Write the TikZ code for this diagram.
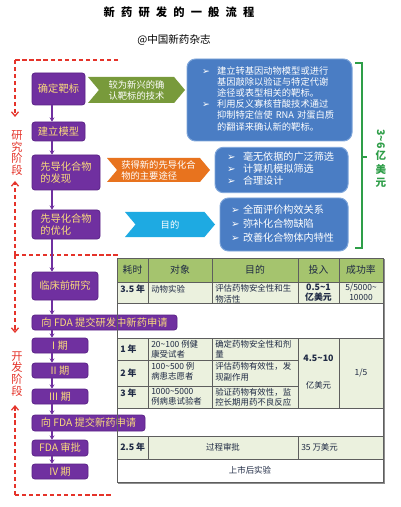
\documentclass[tikz,border=0pt]{standalone}
\usepackage{fontspec}
\setmainfont{Noto Sans CJK SC}
\newfontfamily\symfont{DejaVu Sans}
\usetikzlibrary{arrows.meta,shapes.symbols,calc}
\definecolor{stagefill}{HTML}{7030A0}
\definecolor{stageedge}{HTML}{5A2386}
\definecolor{stagetext}{HTML}{FADB7C}
\definecolor{notefill}{HTML}{4A7DC4}
\definecolor{noteedge}{HTML}{7FA6DA}
\definecolor{taggreen}{HTML}{789A3B}
\definecolor{tagorange}{HTML}{E8731E}
\definecolor{tagcyan}{HTML}{1EAAE2}
\definecolor{phasered}{HTML}{E5332A}
\definecolor{costgreen}{HTML}{2E9E48}
\definecolor{headfill}{HTML}{A5C46E}
\definecolor{rowfill}{HTML}{EBF1DE}
\definecolor{gridline}{HTML}{5E5E5E}
\definecolor{celltext}{HTML}{1F2A44}
\newcommand{\bul}{{\symfont\char"27A2}}
\tikzset{stage/.style={draw=stageedge, fill=stagefill, rounded corners=2pt, text=stagetext, inner sep=1pt,
    font=\fontsize{7.3}{8.8}\selectfont, line width=0.5pt},
  tag/.style={signal, signal from=west, signal to=east, signal pointer angle=100, text=white, inner sep=1pt,
    align=left, font=\fontsize{6.6}{7.8}\selectfont},
  note/.style={draw=noteedge, fill=notefill, rounded corners=6pt, text=white, line width=0.7pt, align=left},
  flow/.style={-{Stealth[length=3pt,width=3.5pt]}, draw=stagefill, line width=1.2pt},
  phase/.style={draw=phasered, line width=0.9pt, dash pattern=on 3pt off 2pt},
  phasetip/.style={phase, -{Straight Barb[length=3pt,width=5pt]}},
  phasetext/.style={text=phasered, align=center, font=\fontsize{8}{8.4}\selectfont},
  cell/.style={text=celltext, inner sep=0pt, align=left, font=\fontsize{6}{7.2}\selectfont},
  grid/.style={draw=gridline, line width=0.6pt}}

\begin{document}
\begin{tikzpicture}[x=0.25mm, y=-0.25mm]
  \useasboundingbox[fill=white] (0,0) rectangle (400,507);
  % title
  \node[font=\bfseries\fontsize{8}{9}\selectfont\addfontfeatures{LetterSpace=55}] (title) at (179,12) {新药研发的一般流程};
  \node[font=\fontsize{7.5}{9}\selectfont] (journal) at (174,40) {@中国新药杂志};

  % research / development phases
  \coordinate (rtop) at (15,60);
  \coordinate (rend) at (118,60);
  \coordinate (rdown) at (15,117);
  \coordinate (mid) at (15,255);
  \coordinate (midend) at (118,255);
  \coordinate (rup) at (15,181);
  \coordinate (ddown) at (15,333);
  \coordinate (dbot) at (15,495);
  \coordinate (dend) at (113,495);
  \coordinate (dup) at (15,405);
  \draw[phase] (rend) -- (rtop);
  \draw[phasetip] (rtop) -- (rdown);
  \draw[phasetip] (mid) -- (rup);
  \draw[phase] (mid) -- (midend);
  \draw[phasetip] (mid) -- (ddown);
  \draw[phasetip] (dbot) -- (dup);
  \draw[phase] (dbot) -- (dend);
  \node[phasetext] (research) at (17,153) {研\\究\\阶\\段};
  \node[phasetext] (develop) at (17,374) {开\\发\\阶\\段};

  % stages
  \node[stage, minimum width=13.25mm, minimum height=8mm] (b1) at (58.5,89) {确定靶标};
  \node[stage, minimum width=13.25mm, minimum height=4.75mm] (b2) at (58.5,131.5) {建立模型};
  \node[stage, minimum width=17mm, minimum height=8.75mm, align=left] (b3) at (66,172.5) {先导化合物\\的发现};
  \node[stage, minimum width=17mm, minimum height=7.25mm, align=left] (b4) at (66,224.5) {先导化合物\\的优化};
  \node[stage, minimum width=16.5mm, minimum height=7mm] (b5) at (65,286) {临床前研究};
  \node[stage, minimum width=36.25mm, minimum height=3.75mm] (b6) at (104.5,322.5) {向 FDA 提交研发中新药申请};
  \node[stage, minimum width=14mm, minimum height=3.75mm] (b7) at (60,345.5) {I 期};
  \node[stage, minimum width=14mm, minimum height=3.75mm] (b8) at (60,370.5) {II 期};
  \node[stage, minimum width=14mm, minimum height=3.75mm] (b9) at (60,396.5) {III 期};
  \node[stage, minimum width=28.25mm, minimum height=4mm] (b10) at (88.5,423) {向 FDA 提交新药申请};
  \node[stage, minimum width=14mm, minimum height=4mm] (b11) at (60,448) {FDA 审批};
  \node[stage, minimum width=14mm, minimum height=3.75mm] (b12) at (60,471.5) {IV 期};
  \coordinate (spine) at (52,0);
  \foreach \a/\b in {b1/b2,b2/b3,b3/b4,b4/b5,b5/b6,b6/b7,b7/b8,b8/b9,b9/b10,b10/b11,b11/b12}
    \draw[flow] (\a.south -| spine) -- (\b.north -| spine);

  % tags
  \node[tag, fill=taggreen, minimum width=24.25mm, minimum height=6.5mm] (g1) at (136.5,90) {较为新兴的确\\认靶标的技术};
  \node[tag, fill=tagorange, minimum width=25.75mm, minimum height=6mm] (o1) at (158.5,170) {获得新的先导化合\\物的主要途径};
  \node[tag, fill=tagcyan, minimum width=22.5mm, minimum height=6.25mm] (c1) at (170,224.5) {目的};

  % notes
  \node[note, inner xsep=3.75mm, text width=33.75mm, minimum height=20.5mm, font=\fontsize{6.6}{7.7}\selectfont] (u1) at (269.5,100)
    {\begin{tabular}{@{}p{3.75mm}@{}l@{}}
      \bul & 建立转基因动物模型或进行\\ & 基因敲除以验证与特定代谢\\ & 途径或表型相关的靶标。\\
      \bul & 利用反义寡核苷酸技术通过\\ & 抑制特定信使 RNA 对蛋白质\\ & 的翻译来确认新的靶标。
    \end{tabular}};
  \node[note, inner xsep=3mm, text width=27.25mm, minimum height=11mm, font=\fontsize{7.2}{8.2}\selectfont] (u2) at (281.5,170)
    {\begin{tabular}{@{}p{4mm}@{}l@{}}
      \bul & 毫无依据的广泛筛选\\ \bul & 计算机模拟筛选\\ \bul & 合理设计
    \end{tabular}};
  \node[note, inner xsep=2.75mm, text width=26.5mm, minimum height=13.25mm, font=\fontsize{7.2}{10}\selectfont] (u3) at (284,224.5)
    {\begin{tabular}{@{}p{3mm}@{}l@{}}
      \bul & 全面评价构效关系\\ \bul & 弥补化合物缺陷\\ \bul & 改善化合物体内特性
    \end{tabular}};

  % cost bracket
  \coordinate (brtop) at (355,63);
  \coordinate (brbot) at (355,248);
  \coordinate (brmid) at (362,157);
  \draw[costgreen, line width=1.1pt] (brtop) -- (brtop -| brmid) -- (brbot -| brmid) -- (brbot);
  \draw[costgreen, line width=1.1pt] (brmid) -- ++(5,0);
  \node[costgreen, rotate=-90, font=\bfseries\fontsize{7.5}{8}\selectfont] (range) at (381,139) {3\textasciitilde6};
  \node[costgreen, align=center, font=\bfseries\fontsize{7.5}{9.6}\selectfont] (unit) at (381,169) {亿\\美\\元};

  % table
  \fill[headfill] (117,258) rectangle (383,282);
  \fill[rowfill] (117,282) rectangle (383,303);
  \fill[rowfill] (117,338) rectangle (383,408);
  \fill[rowfill] (117,436) rectangle (383,459);
  \draw[grid] (117,282) -- (383,282);
  \draw[grid] (117,303) -- (383,303);
  \draw[grid] (117,338) -- (383,338);
  \draw[grid] (117,360) -- (298,360);
  \draw[grid] (117,386) -- (298,386);
  \draw[grid] (117,408) -- (383,408);
  \draw[grid] (117,436) -- (383,436);
  \draw[grid] (117,459) -- (383,459);
  \foreach \x in {148,212,298,339} {
    \draw[grid] (\x,258) -- (\x,303);
    \draw[grid] (\x,338) -- (\x,408);
  }
  \draw[grid] (148,436) -- (148,459);
  \draw[grid] (298,436) -- (298,459);
  \draw[gridline!70, line width=1.4pt] (384,259) -- (384,483) -- (118,483);
  \draw[grid] (117,258) rectangle (383,482);

  \node[cell, font=\fontsize{7}{8}\selectfont] (h1) at (132.5,270) {耗时};
  \node[cell, font=\fontsize{7}{8}\selectfont] (h2) at (180,270) {对象};
  \node[cell, font=\fontsize{7}{8}\selectfont] (h3) at (255,270) {目的};
  \node[cell, font=\fontsize{7}{8}\selectfont] (h4) at (318.5,270) {投入};
  \node[cell, font=\fontsize{7}{8}\selectfont] (h5) at (361,270) {成功率};

  \node[cell, anchor=north west, font=\bfseries\fontsize{6.3}{7.2}\selectfont] (t1) at (120,285) {3.5 年};
  \node[cell, anchor=north west] (s1) at (151,285) {动物实验};
  \node[cell, anchor=north west] (p1) at (215,284.5) {评估药物安全性和生\\物活性};
  \node[cell, align=center, font=\bfseries\fontsize{6.3}{7.2}\selectfont] (m1) at (318.5,292.5) {0.5\textasciitilde1\\亿美元};
  \node[cell, align=center] (r1) at (361,292.5) {5/5000\textasciitilde\\10000};

  \node[cell, anchor=west, font=\bfseries\fontsize{6.3}{7.2}\selectfont] (t2) at (120,349) {1 年};
  \node[cell, anchor=north west] (s2) at (151,340) {20\textasciitilde100 例健\\康受试者};
  \node[cell, anchor=north west] (p2) at (215,340) {确定药物安全性和剂\\量};
  \node[cell, anchor=west, font=\bfseries\fontsize{6.3}{7.2}\selectfont] (t3) at (120,373) {2 年};
  \node[cell, anchor=north west] (s3) at (151,362.5) {100\textasciitilde500 例\\病患志愿者};
  \node[cell, anchor=north west] (p3) at (215,362.5) {评估药物有效性，发\\现副作用};
  \node[cell, anchor=west, font=\bfseries\fontsize{6.3}{7.2}\selectfont] (t4) at (120,393) {3 年};
  \node[cell, anchor=north west] (s4) at (151,388) {1000\textasciitilde5000\\例病患试验者};
  \node[cell, anchor=north west] (p4) at (215,388) {验证药物有效性，监\\控长期用药不良反应};
  \node[cell, font=\bfseries\fontsize{6.3}{7.2}\selectfont] (m2) at (318.5,358) {4.5\textasciitilde10};
  \node[cell] (m3) at (318.5,385) {亿美元};
  \node[cell] (r2) at (361,373) {1/5};

  \node[cell, anchor=west, font=\bfseries\fontsize{6.3}{7.2}\selectfont] (t5) at (120,447.5) {2.5 年};
  \node[cell] (p5) at (223,447.5) {过程审批};
  \node[cell, anchor=west] (m4) at (301,447.5) {35 万美元};
  \node[cell] (p6) at (250,470.5) {上市后实验};
\end{tikzpicture}
\end{document}
